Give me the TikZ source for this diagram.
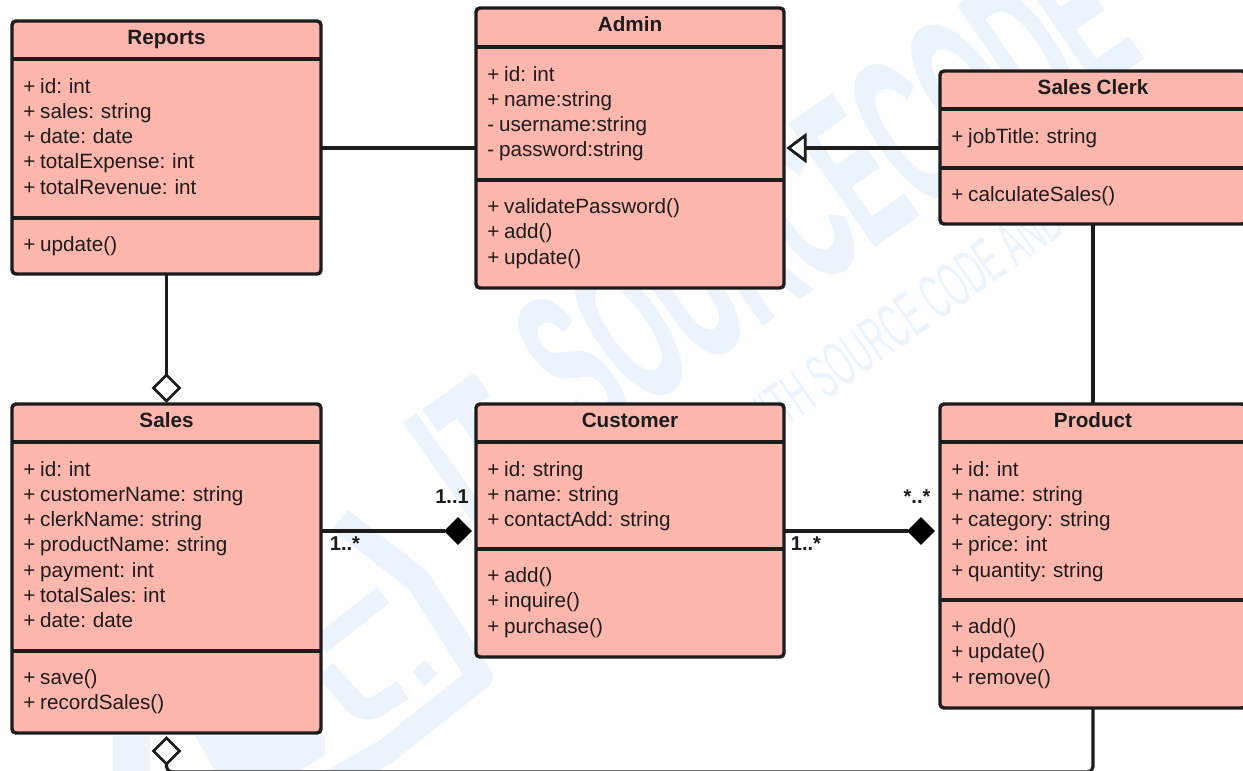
\documentclass[tikz,border=0pt]{standalone}
\usepackage{graphicx}
\usepackage{fontspec}
\setmainfont[WordSpace=0.85]{Liberation Sans}
\newfontfamily\wmfont[BoldFeatures={FakeBold=1.5}]{Liberation Sans}
\newfontfamily\wmthin{Liberation Sans}
\usetikzlibrary{shapes.geometric,calc}
\definecolor{boxfill}{HTML}{FFB6AD}
\definecolor{inkc}{HTML}{1C1C1C}
\definecolor{wm}{HTML}{EBF3FD}
\tikzset{
  x=0.75pt,y=-0.75pt,
  umlbox/.style={draw=inkc,line width=2.6pt,fill=boxfill,rounded corners=3pt,inner sep=0pt,outer sep=0pt},
  umltitle/.style={font=\fontsize{15.5}{18}\selectfont\bfseries,text=inkc,inner sep=0pt,anchor=base},
  umlbody/.style={font=\fontsize{15.5}{18.9}\selectfont,text=inkc,inner sep=0pt,anchor=north west,align=left},
  link/.style={draw=inkc,line width=2.4pt},
  emptyd/.style={diamond,draw=inkc,fill=white,line width=2.1pt,minimum width=19.5pt,minimum height=19.5pt,inner sep=0pt,outer sep=0pt,aspect=1},
  blackd/.style={diamond,draw=black,fill=black,line width=0.5pt,minimum width=20pt,minimum height=20pt,inner sep=0pt,outer sep=0pt,aspect=1},
  opentri/.style={isosceles triangle,isosceles triangle apex angle=74,draw=inkc,fill=white,line width=2.1pt,minimum height=12.5pt,inner sep=0pt,outer sep=0pt,shape border rotate=180},
  mult/.style={font=\fontsize{15}{16}\selectfont\bfseries,text=inkc,inner sep=0pt},
  wmark/.style={text=wm,inner sep=0pt,rotate=35},
  wband/.style={wm,line cap=butt,line join=round},
}
\newcommand{\wmtext}[3]{\resizebox{#1}{#2}{\wmfont\bfseries #3}}
% name, x1,y1,x2,y2, header line y, separator y, title, attributes (methods in \umlmethods)
\newcommand{\umlclass}[9]{%
  \node[umlbox,minimum width=#4*0.75pt-#2*0.75pt,minimum height=#5*0.75pt-#3*0.75pt] (#1) at ({(#2+#4)/2},{(#3+#5)/2}) {};
  \draw[inkc,line width=2.6pt] (#2,#6) -- (#4,#6);
  \draw[inkc,line width=2.6pt] (#2,#7) -- (#4,#7);
  \node[umltitle] (#1t) at ({(#2+#4)/2},{(#3+#6)/2+4}) {#8};
  \umlbodies{#1}{#2}{#6}{#7}{#9}}
\newcommand{\umlbodies}[5]{%
  \node[umlbody] (#1a) at (#2+11,#3+19) {#5};
  \node[umlbody] (#1m) at (#2+11,#4+18.5) {\umlmethods};}
\begin{document}
\begin{tikzpicture}
\useasboundingbox (0,0) rectangle (1243,771);
\clip (0,0) rectangle (1243,771);
\fill[white] (0,0) rectangle (1243,771);
% watermark
\node[wmark] (wmA) at (825,190) {\wmtext{510pt}{112pt}{SOURCECODE}};
\node[wmark] (wmB) at (480,462) {\wmtext{70pt}{112pt}{IT}};
\node[wmark] (wmC) at (900,322) {\resizebox{285pt}{33pt}{\wmthin WITH SOURCE CODE AND}};
\draw[wband,line width=19pt] (340,520) -- (418,580) -- (480,677) -- (385,752) -- (300,800);
\draw[wband,line width=15pt] (383,595) -- (320,645);
\draw[wband,line width=16pt,rounded corners=10pt] (325,670) -- (365,714) -- (403,690);
\fill[wm] (425,660) -- (438,674) -- (425,686) -- (412,672) -- cycle;
\fill[wm] (113,736) rectangle (150,771);
\fill[wm] (195,736) -- (325,736) -- (325,755) -- (300,771) -- (215,771) -- cycle;

% classes
\def\umlmethods{+ update()}
\umlclass{reports}{12}{21}{321}{274}{59}{218}{Reports}{+ id: int\\+ sales: string\\+ date: date\\+ totalExpense: int\\+ totalRevenue: int}
\def\umlmethods{+ validatePassword()\\+ add()\\+ update()}
\umlclass{admin}{476}{8}{784}{288}{47}{180}{Admin}{+ id: int\\+ name:string\\- username:string\\- password:string}
\def\umlmethods{+ calculateSales()}
\umlclass{clerk}{940}{71}{1246}{224}{109}{168}{Sales Clerk}{+ jobTitle: string}
\def\umlmethods{+ save()\\+ recordSales()}
\umlclass{sales}{12}{404}{321}{733}{442}{651}{Sales}{+ id: int\\+ customerName: string\\+ clerkName: string\\+ productName: string\\+ payment: int\\+ totalSales: int\\+ date: date}
\def\umlmethods{+ add()\\+ inquire()\\+ purchase()}
\umlclass{customer}{476}{404}{784}{657}{442}{549}{Customer}{+ id: string\\+ name: string\\+ contactAdd: string}
\def\umlmethods{+ add()\\+ update()\\+ remove()}
\umlclass{product}{940}{404}{1246}{708}{442}{600}{Product}{+ id: int\\+ name: string\\+ category: string\\+ price: int\\+ quantity: string}

% end markers
\node[emptyd] (d1) at (166.5,388) {};
\node[emptyd] (d2) at (166.5,751) {};
\node[blackd] (d3) at (458,531) {};
\node[blackd] (d4) at (921,531) {};
\node[opentri] (tri) at (799,148) {};
\coordinate (turnR) at (1093,772);
\coordinate (turnL) at (166.5,772);

% connectors
\draw[link] (reports.east |- 0,148) -- (admin.west |- 0,148);
\draw[link] (clerk.west |- 0,148) -- (tri.east);
\draw[link] (reports.south) -- (d1.north);
\draw[link] (clerk.south) -- (product.north);
\draw[link] (sales.east |- d3.west) -- (d3.west);
\draw[link] (customer.east |- d4.west) -- (d4.west);
\draw[link,rounded corners=4pt] (product.south) -- (turnR) -- (turnL) -- (d2.south);

% multiplicities
\node[mult] (m1) at (452,497) {1..1};
\node[mult] (m2) at (345,544) {1..*};
\node[mult] (m3) at (917,497) {*..*};
\node[mult] (m4) at (806,544) {1..*};
\end{tikzpicture}
\end{document}
